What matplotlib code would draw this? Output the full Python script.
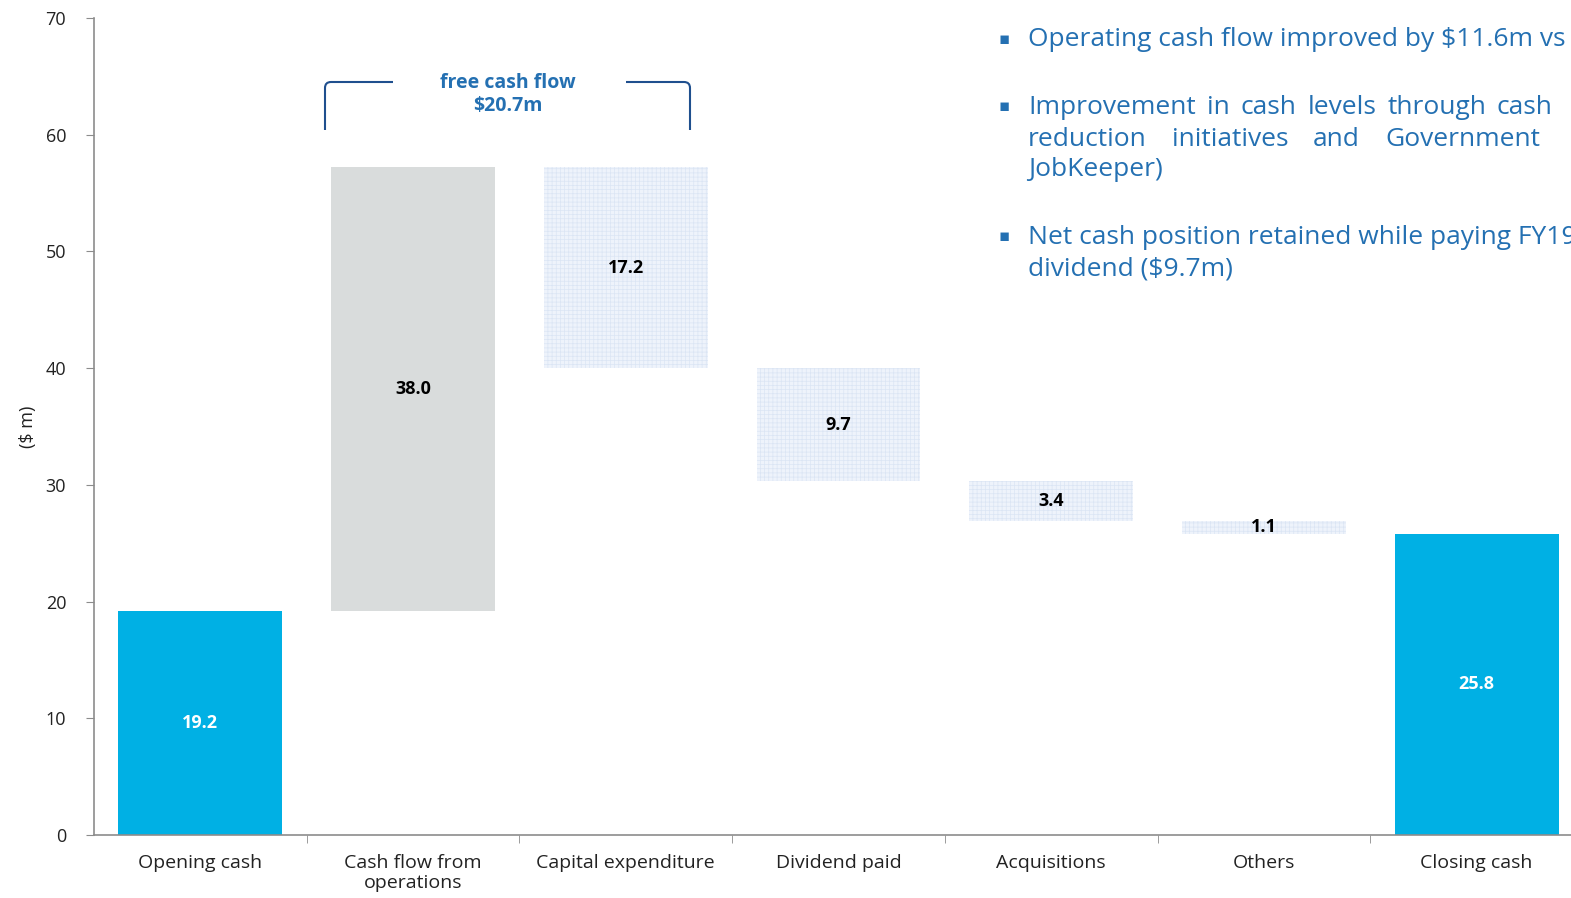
import matplotlib
matplotlib.use("Agg")
import matplotlib.pyplot as plt
from matplotlib.path import Path
import matplotlib.patches as patches

# data
categories = ["Opening cash", "Cash flow from\noperations", "Capital expenditure",
              "Dividend paid", "Acquisitions", "Others", "Closing cash"]
amounts = [19.2, 38.0, -17.2, -9.7, -3.4, -1.1, 25.8]
kinds = ["total", "up", "down", "down", "down", "down", "total"]
labels = ["19.2", "38.0", "17.2", "9.7", "3.4", "1.1", "25.8"]
yticks = [0, 10, 20, 30, 40, 50, 60, 70]

plt.rcParams['font.family'] = ['Open Sans', 'DejaVu Sans']
plt.rcParams['hatch.linewidth'] = 0.5

BLUE = '#00b0e4'
GREY = '#d9dcdc'
TXT_BLUE = '#2470b2'
DARK_BLUE = '#1f4f8e'
AXIS = '#8c8c8c'

W, H = 1571, 898
fig = plt.figure(figsize=(W / 100, H / 100), dpi=100)
ax = fig.add_axes([94 / W, 63 / H, 1489 / W, 817 / H])

# waterfall bottoms / heights
bottoms, heights = [], []
running = 0.0
for amt, kind in zip(amounts, kinds):
    if kind == "total":
        bottoms.append(0.0)
        heights.append(amt)
        running = amt
    elif amt >= 0:
        bottoms.append(running)
        heights.append(amt)
        running += amt
    else:
        running += amt
        bottoms.append(running)
        heights.append(-amt)

x = list(range(len(categories)))
for i in x:
    if kinds[i] == "total":
        ax.bar(i, heights[i], bottom=bottoms[i], width=0.77, color=BLUE, linewidth=0)
        tcol = 'white'
    elif kinds[i] == "up":
        ax.bar(i, heights[i], bottom=bottoms[i], width=0.77, color=GREY, linewidth=0)
        tcol = 'black'
    else:
        ax.bar(i, heights[i], bottom=bottoms[i], width=0.77, facecolor='#eef3fb',
               edgecolor='#dbe5f4', hatch='++++', linewidth=0)
        tcol = 'black'
    ax.text(i, bottoms[i] + heights[i] / 2, labels[i], ha='center', va='center',
            fontsize=13, fontweight='bold', color=tcol)

ax.set_xlim(-0.5, len(categories) - 0.5)
ax.set_ylim(0, 70)
ax.set_yticks(yticks)
ax.set_yticklabels([str(t) for t in yticks], fontsize=13, color='#222222')
ax.set_xticks(x)
ax.set_xticklabels(categories, fontsize=14, color='#222222', linespacing=1.1)
ax.set_xticks([i + 0.5 for i in x[:-1]], minor=True)
ax.tick_params(axis='x', which='major', length=0, pad=14)
ax.tick_params(axis='x', which='minor', length=6, color=AXIS, direction='out')
ax.tick_params(axis='y', length=6, color=AXIS, pad=14)
for s in ['top', 'right']:
    ax.spines[s].set_visible(False)
for s in ['left', 'bottom']:
    ax.spines[s].set_color(AXIS)
    ax.spines[s].set_linewidth(1.2)
ax.set_ylabel("($ m)", fontsize=13, color='#222222', labelpad=6)


def fx(px):
    return px / W


def fy(py):
    return 1 - py / H


# free cash flow bracket
r = 6
left = Path([(fx(325), fy(130)), (fx(325), fy(82 + r)), (fx(325), fy(82)),
             (fx(325 + r), fy(82)), (fx(393), fy(82))],
            [Path.MOVETO, Path.LINETO, Path.CURVE3, Path.CURVE3, Path.LINETO])
right = Path([(fx(626), fy(82)), (fx(690 - r), fy(82)), (fx(690), fy(82)),
              (fx(690), fy(82 + r)), (fx(690), fy(130))],
             [Path.MOVETO, Path.LINETO, Path.CURVE3, Path.CURVE3, Path.LINETO])
for p in (left, right):
    fig.add_artist(patches.PathPatch(p, transform=fig.transFigure, fill=False,
                                     edgecolor=DARK_BLUE, linewidth=1.5))
fig.text(fx(508), fy(83), "free cash flow", ha='center', va='center',
         fontsize=14, fontweight='bold', color=TXT_BLUE)
fig.text(fx(508), fy(106), "$20.7m", ha='center', va='center',
         fontsize=14, fontweight='bold', color=TXT_BLUE)

# commentary bullets: (y px, text, start of last word for justified lines)
renderer = fig.canvas.get_renderer()
TX = 1028
lines = [(40, "Operating cash flow improved by $11.6m vs FY19", None),
         (107, "Improvement in cash levels through cash", 1497),
         (139, "reduction initiatives and Government", 1385),
         (170, "JobKeeper)", None),
         (237, "Net cash position retained while paying FY19 final", None),
         (269, "dividend ($9.7m)", None)]
for ypx, txt, last_start in lines:
    if last_start is None:
        fig.text(fx(TX), fy(ypx), txt, ha='left', va='center', fontsize=19,
                 color=TXT_BLUE)
        continue
    words = txt.split()
    arts = [fig.text(0, fy(ypx), w, ha='left', va='center', fontsize=19,
                     color=TXT_BLUE) for w in words]
    widths = [a.get_window_extent(renderer).width for a in arts]
    gap = (last_start - TX - sum(widths[:-1])) / (len(words) - 1)
    xpos = TX
    for a, wdt in zip(arts, widths):
        a.set_x(fx(xpos))
        xpos += wdt + gap
for ypx in (40, 107, 237):
    fig.text(fx(1004), fy(ypx), "\u25aa", ha='center', va='center', fontsize=12,
             color=TXT_BLUE)

fig.savefig('out.png', dpi=100)
